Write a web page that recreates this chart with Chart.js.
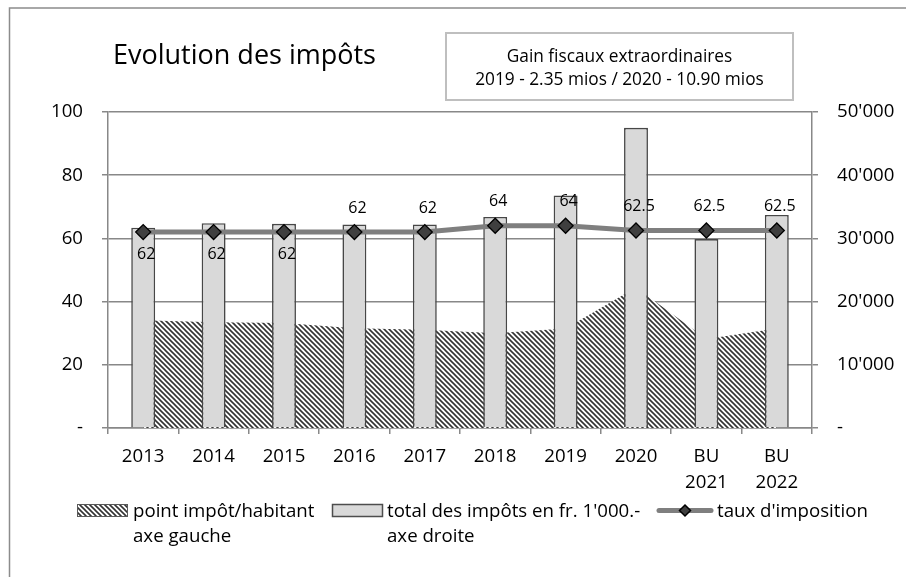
<!DOCTYPE html>
<html>
<head>
<meta charset="utf-8">
<script src="https://cdn.jsdelivr.net/npm/chart.js@4/dist/chart.umd.min.js"></script>
<style>
html,body{margin:0;padding:0;background:#fff;overflow:hidden}
#wrap{position:relative;width:906px;height:577px}
</style>
</head>
<body>
<div id="wrap"><canvas id="c" width="906" height="577"></canvas></div>
<script>
// ---- data ----
const categories = ['2013', '2014', '2015', '2016', '2017', '2018', '2019', '2020', ['BU', '2021'], ['BU', '2022']];
const pointImpotHabitant = [34.1, 33.5, 33.2, 31.6, 31.1, 30.0, 31.5, 44.5, 28.2, 31.5];
const totalImpots = [31700, 32400, 32300, 32200, 32200, 33400, 36800, 47500, 29900, 33700];
const tauxImposition = [62, 62, 62, 62, 62, 64, 64, 62.5, 62.5, 62.5];
const leftAxisMax = 100;
const rightAxisMax = 50000;
const titleText = 'Evolution des impôts';
const noteLines = ['Gain fiscaux extraordinaires', '2019 - 2.35 mios / 2020 - 10.90 mios'];
const seriesNames = [['point impôt/habitant', 'axe gauche'], ["total des impôts en fr. 1'000.-", 'axe droite'], ["taux d'imposition"]];

const FONT = "'Open Sans', 'Noto Sans', sans-serif";
const GRID = '#888888';

const canvas = document.getElementById('c');
const mainCtx = canvas.getContext('2d');

function makeHatch() {
  const t = document.createElement('canvas');
  t.width = 5; t.height = 5;
  const g = t.getContext('2d');
  g.fillStyle = '#ffffff'; g.fillRect(0, 0, 5, 5);
  g.strokeStyle = '#333333'; g.lineWidth = 1.6;
  g.beginPath();
  g.moveTo(-1, -1); g.lineTo(6, 6);
  g.moveTo(-1, 4); g.lineTo(1, 6);
  g.moveTo(4, -1); g.lineTo(6, 1);
  g.stroke();
  return mainCtx.createPattern(t, 'repeat');
}
const hatch = makeHatch();

function fmtThousands(v) {
  if (v === 0) return '-';
  return String(v).replace(/\B(?=(\d{3})+(?!\d))/g, "'");
}

const framePlugin = {
  id: 'frame',
  beforeDraw(chart) {
    const ctx = chart.ctx;
    ctx.save();
    ctx.fillStyle = '#fff';
    ctx.fillRect(0, 0, chart.width, chart.height);
    ctx.strokeStyle = '#8c8c8c';
    ctx.lineWidth = 1.5;
    ctx.beginPath();
    ctx.moveTo(9.5, chart.height);
    ctx.lineTo(9.5, 8);
    ctx.lineTo(chart.width, 8);
    ctx.stroke();
    ctx.restore();
  }
};

const valueLabels = {
  id: 'valueLabels',
  afterDatasetsDraw(chart, args, opts) {
    const meta = chart.getDatasetMeta(opts.datasetIndex);
    const ds = chart.data.datasets[opts.datasetIndex];
    const ctx = chart.ctx;
    ctx.save();
    ctx.font = '16px ' + FONT;
    ctx.fillStyle = '#000';
    ctx.textAlign = 'center';
    ctx.textBaseline = 'middle';
    meta.data.forEach((pt, i) => {
      const below = opts.below.includes(i);
      ctx.fillText(String(ds.data[i]), pt.x + opts.dx, pt.y + (below ? opts.belowOffset : -opts.aboveOffset));
    });
    ctx.restore();
  }
};

const decorations = {
  id: 'decorations',
  afterDraw(chart) {
    const ctx = chart.ctx;
    ctx.save();
    // title
    ctx.fillStyle = '#000';
    ctx.textBaseline = 'alphabetic';
    ctx.textAlign = 'left';
    ctx.font = '27px ' + FONT;
    ctx.fillText(titleText, 113, 64);
    // note box
    ctx.strokeStyle = '#bfbfbf';
    ctx.lineWidth = 2;
    ctx.strokeRect(446, 33, 347, 67);
    ctx.font = '17.3px ' + FONT;
    ctx.textAlign = 'center';
    ctx.fillText(noteLines[0], 619.5, 61.5);
    ctx.fillText(noteLines[1], 619.5, 85);
    // legend
    const ly = 510.5;
    ctx.font = '18.67px ' + FONT;
    ctx.textAlign = 'left';
    // item 1: hatched area
    ctx.fillStyle = hatch;
    ctx.fillRect(77, 504, 51, 13);
    ctx.strokeStyle = '#5a5a5a'; ctx.lineWidth = 1;
    ctx.strokeRect(77.5, 504.5, 50, 12);
    ctx.fillStyle = '#000';
    ctx.fillText(seriesNames[0][0], 133, 517);
    ctx.fillText(seriesNames[0][1], 133, 542);
    // item 2: bar
    ctx.fillStyle = '#d9d9d9';
    ctx.fillRect(332, 504, 51, 13);
    ctx.strokeStyle = '#4d4d4d'; ctx.lineWidth = 1.5;
    ctx.strokeRect(332.5, 504.5, 50, 12);
    ctx.fillStyle = '#000';
    ctx.fillText(seriesNames[1][0], 387, 517);
    ctx.fillText(seriesNames[1][1], 387, 542);
    // item 3: line with marker
    ctx.strokeStyle = '#7f7f7f'; ctx.lineWidth = 5; ctx.lineCap = 'round';
    ctx.beginPath(); ctx.moveTo(659, ly); ctx.lineTo(711, ly); ctx.stroke();
    ctx.lineCap = 'butt';
    ctx.fillStyle = '#3f3f3f'; ctx.strokeStyle = '#000'; ctx.lineWidth = 1.5;
    ctx.beginPath();
    ctx.moveTo(685, ly - 5.5); ctx.lineTo(690.5, ly); ctx.lineTo(685, ly + 5.5); ctx.lineTo(679.5, ly); ctx.closePath();
    ctx.fill(); ctx.stroke();
    ctx.fillStyle = '#000';
    ctx.fillText(seriesNames[2][0], 717, 517);
    ctx.restore();
  }
};

Chart.defaults.font.family = FONT;
Chart.defaults.color = '#000';

new Chart(canvas, {
  data: {
    labels: categories,
    datasets: [
      {
        type: 'line',
        label: seriesNames[2].join(' '),
        data: tauxImposition,
        yAxisID: 'y',
        borderColor: '#7f7f7f',
        borderWidth: 5,
        fill: false,
        tension: 0,
        pointStyle: 'rectRot',
        pointRadius: 7.5,
        pointBackgroundColor: '#3f3f3f',
        pointBorderColor: '#000',
        pointBorderWidth: 1.3,
        order: 1
      },
      {
        type: 'bar',
        label: seriesNames[1].join(' '),
        data: totalImpots,
        yAxisID: 'y1',
        backgroundColor: '#d9d9d9',
        borderColor: '#474747',
        borderWidth: 1.6,
        barPercentage: 0.34,
        categoryPercentage: 1,
        order: 2
      },
      {
        type: 'line',
        label: seriesNames[0].join(' '),
        data: pointImpotHabitant,
        yAxisID: 'y',
        fill: 'origin',
        backgroundColor: hatch,
        borderColor: 'rgba(0,0,0,0)',
        borderWidth: 1,
        pointRadius: 0,
        tension: 0,
        order: 3
      }
    ]
  },
  options: {
    responsive: false,
    animation: false,
    devicePixelRatio: 1,
    layout: { padding: { top: 112, left: 0, right: 0, bottom: 79 } },
    plugins: {
      legend: { display: false },
      tooltip: { enabled: false },
      title: { display: false },
      valueLabels: { datasetIndex: 0, below: [0, 1, 2], dx: 3, belowOffset: 22, aboveOffset: 24 }
    },
    scales: {
      x: {
        type: 'category',
        offset: true,
        afterFit(s) { s.height = 70; },
        grid: { display: true, offset: true, drawOnChartArea: false, drawTicks: true, tickLength: 6, color: GRID, lineWidth: 1.5 },
        border: { display: true, color: GRID, width: 1.5 },
        ticks: { font: { size: 18.67, lineHeight: 1.39 }, color: '#000', padding: 10, maxRotation: 0, autoSkip: false }
      },
      y: {
        position: 'left',
        min: 0,
        max: leftAxisMax,
        afterFit(s) { s.width = 108; },
        grid: { color: GRID, lineWidth: 1.5, tickLength: 6, drawTicks: true },
        border: { display: true, color: GRID, width: 1.5 },
        ticks: { stepSize: 20, padding: 19, font: { size: 18.67 }, color: '#000', callback: v => (v === 0 ? '-' : String(v)) }
      },
      y1: {
        position: 'right',
        min: 0,
        max: rightAxisMax,
        afterFit(s) { s.width = 94; },
        grid: { drawOnChartArea: false, color: GRID, lineWidth: 1.5, tickLength: 6, drawTicks: true },
        border: { display: true, color: GRID, width: 1.5 },
        ticks: { stepSize: 10000, padding: 19, font: { size: 18.67 }, color: '#000', callback: v => fmtThousands(v) }
      }
    }
  },
  plugins: [framePlugin, valueLabels, decorations]
});
</script>
</body>
</html>
